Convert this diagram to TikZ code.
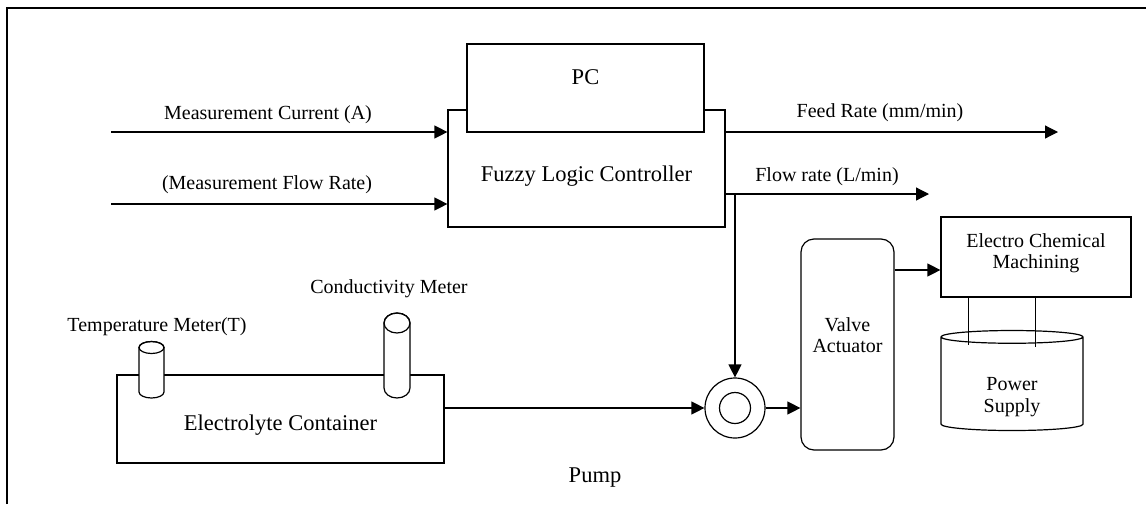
\documentclass[tikz,border=0pt]{standalone}
\usepackage{fontspec}
\setmainfont{Liberation Serif}
\usetikzlibrary{arrows.meta,shapes.geometric}

\begin{document}
\begin{tikzpicture}[
  x=1pt,y=-1pt,
  box/.style={draw,line width=1.2pt,fill=white,align=center,inner sep=0pt,
              font=\fontsize{20}{21.5}\selectfont},
  big/.style={font=\fontsize{22.5}{25}\selectfont},
  lbl/.style={inner sep=0pt,font=\fontsize{20}{21.5}\selectfont},
  arr/.style={-{Triangle[length=13pt,width=13pt]},line width=1.2pt},
  meter/.style={draw,line width=1.2pt,fill=white},
  pumpsym/.style={draw,circle,line width=1.2pt,minimum size=60pt,inner sep=0pt,
              path picture={\draw[line width=1.2pt] (path picture bounding box.center) circle (15.5pt);}}
]
\useasboundingbox (0,0) rectangle (1146,504);
% outer frame (cut off at right and bottom)
\draw[line width=2.5pt] (7,504) -- (7,8) -- (1146,8);

% controller and PC
\node[box,big,minimum width=277pt,minimum height=117pt,text height=30pt] (flc) at (586.5,168.5) {Fuzzy Logic Controller};
\node[box,big,minimum width=237pt,minimum height=88pt,text depth=22pt] (pc) at (585.5,88) {PC};

% measured inputs
\coordinate (in1) at (111,132);
\coordinate (in2) at (111,204);
\draw[arr] (in1) -- (in1 -| flc.west);
\draw[arr] (in2) -- (in2 -| flc.west);
\node[lbl] (curlbl) at (268,115) {Measurement Current (A)};
\node[lbl] (fllbl) at (267,185) {(Measurement Flow Rate)};

% outputs
\coordinate (feed) at (1058,132);
\coordinate (flow) at (929,194);
\draw[arr] (flc.east |- feed) -- (feed);
\draw[arr] (flc.east |- flow) -- (flow);
\node[lbl] (feedlbl) at (880,113) {Feed Rate (mm/min)};
\node[lbl] (flowlbl) at (827,177) {Flow rate (L/min)};

% electrolyte circuit
\node[box,big,minimum width=327pt,minimum height=88pt,text height=27pt] (tank) at (280.5,419) {Electrolyte Container};
\node[pumpsym] (pump) at (735,408) {};
\node[lbl,big] (pumplbl) at (595,478) {Pump};
\draw[arr] (flow -| pump) -- (pump.north);
\draw[arr] (tank.east |- pump) -- (pump.west);

% meters on the tank
\draw[meter] (139,347.5) -- (139,392) arc[start angle=180,end angle=0,x radius=12.5,y radius=6]
  -- (164,347.5) arc[start angle=0,end angle=-180,x radius=12.5,y radius=6] -- cycle;
\draw[line width=1.2pt] (151.5,347.5) ellipse[x radius=12.5,y radius=6];
\draw[meter] (384,323) -- (384,388) arc[start angle=180,end angle=0,x radius=13,y radius=10]
  -- (410,323) arc[start angle=0,end angle=-180,x radius=13,y radius=10] -- cycle;
\draw[line width=1.2pt] (397,323) ellipse[x radius=13,y radius=10];
\node[lbl] (tlbl) at (157,327) {Temperature Meter(T)};
\node[lbl] (clbl) at (389,289) {Conductivity Meter};

% valve, machining and supply
\node[box,rounded corners=13pt,minimum width=93pt,minimum height=211pt,text depth=19pt] (valve) at (847.5,344.5) {Valve\\Actuator};
\node[box,minimum width=190pt,minimum height=80pt,text depth=12pt] (ecm) at (1036,257) {Electro Chemical\\Machining};
\node[box,cylinder,shape border rotate=90,aspect=0.225,minimum width=142pt,minimum height=100pt,
      text height=56pt,text depth=0pt] (psu) at (1012,384) {Power\\Supply};
\draw[arr] (pump.east) -- (valve.west |- pump);
\coordinate (vo) at ([yshift=-13pt]ecm.west);
\draw[arr] (valve.east |- vo) -- (vo);
\coordinate (w1) at (968,345);
\coordinate (w2) at (1035,346.5);
\draw[line width=0.9pt] (ecm.south -| w1) -- (w1);
\draw[line width=0.9pt] (ecm.south -| w2) -- (w2);
\end{tikzpicture}
\end{document}
